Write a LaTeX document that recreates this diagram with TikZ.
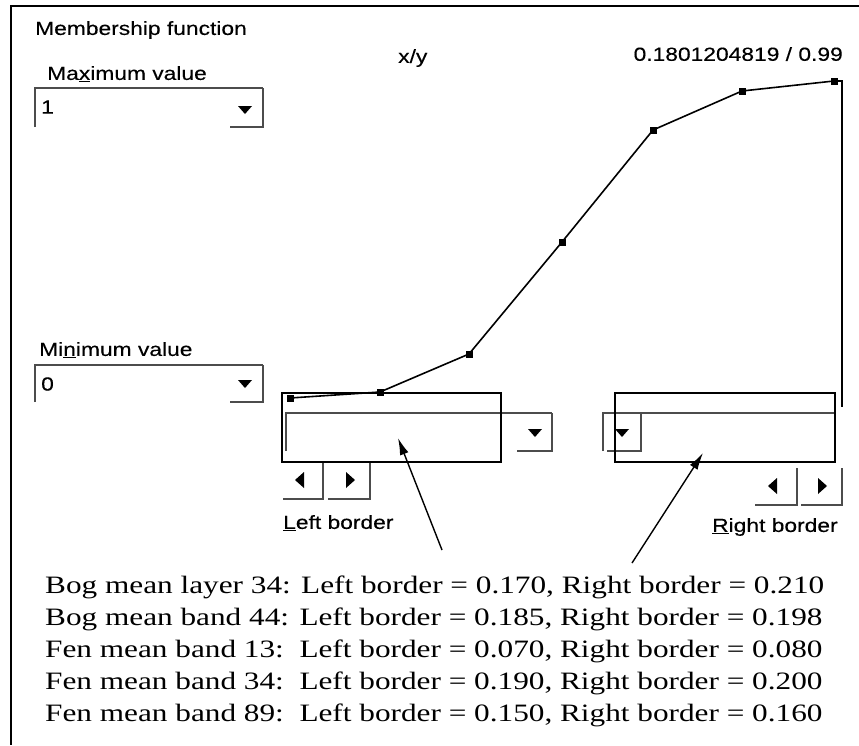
\documentclass[tikz,border=0pt]{standalone}
\usepackage{fontspec}
\newfontfamily\uifont[FakeStretch=1.2, FakeBold=0.3]{Liberation Sans}
\newfontfamily\notefont[FakeStretch=1.25]{Liberation Serif}
\usetikzlibrary{arrows.meta}

\tikzset{
    uilabel/.style={font=\uifont\fontsize{19}{22}\selectfont, inner sep=0pt, anchor=west},
    noteline/.style={font=\notefont\fontsize{25}{30}\selectfont, inner sep=0pt, anchor=west},
    sunken/.style={draw=black!70, line width=1.6pt},
    outline/.style={line width=1.4pt},
    marker/.style={fill=black, minimum size=7pt, inner sep=0pt},
    pointer/.style={line width=1.4pt, -{Latex[length=17pt,width=9pt]}},
}

\begin{document}
\begin{tikzpicture}[x=1pt, y=-1pt]
    \useasboundingbox (0,0) rectangle (859,745);

    % Draw the dialog frame
    \draw[line width=2pt] (10,6) -- (859,6);
    \draw[line width=2pt] (11,6) -- (11,745);

    % Label the left panel
    \node[uilabel] (title) at (35,30) {Membership function};
    \node[uilabel] (maxlabel) at (47,74) {Ma\underline{x}imum value};
    \node[uilabel] (maxval) at (41,107) {1};
    \node[uilabel] (minlabel) at (39,350) {Mi\underline{n}imum value};
    \node[uilabel] (minval) at (41,384) {0};

    % Draw the sunken combo boxes (top-left edge, then button shadow)
    \foreach \xa/\ya/\xb/\yb/\xc in {35/88/263/127/230, 35/365/263/402/230, 286/413/552/451/517} {
        \draw[sunken] (\xa,\yb) -- (\xa,\ya) -- (\xb,\ya);
        \draw[sunken] (\xc,\yb) -- (\xb,\yb) -- (\xb,\ya);
    }
    \draw[sunken] (603,451) -- (603,413) -- (835,413);
    \draw[sunken] (607,451) -- (641,451) -- (641,413);

    % Draw the drop-down arrows
    \foreach \x/\y in {245/110, 245/384, 535/433, 622/433} {
        \fill (\x-7,\y-4) -- (\x+7,\y-4) -- (\x,\y+4) -- cycle;
    }

    % Draw the border boxes
    \draw[outline] (282,393) rectangle (501,462);
    \draw[outline] (615,393) rectangle (835,462);

    % Draw the scroll buttons
    \foreach \xa/\xb/\ya/\yb in {283/323/463/499, 328/370/463/499, 755/797/468/505, 801/842/468/505} {
        \draw[sunken] (\xa,\yb) -- (\xb,\yb) -- (\xb,\ya);
    }
    \foreach \x/\y in {300/480, 773/486} {
        \fill (\x+4,\y-8) -- (\x+4,\y+8) -- (\x-5,\y) -- cycle;
    }
    \foreach \x/\y in {350/480, 822/486} {
        \fill (\x-4,\y-8) -- (\x-4,\y+8) -- (\x+5,\y) -- cycle;
    }
    \node[uilabel] (leftlabel) at (283,523) {\underline{L}eft border};
    \node[uilabel] (rightlabel) at (712,527) {\underline{R}ight border};

    % Draw the membership curve
    \node[uilabel] (xylabel) at (398,58) {x/y};
    \node[uilabel, anchor=east] (xyvalue) at (843,54) {0.1801204819 / 0.99};
    \foreach \n/\x/\y in {1/290/398, 2/380/392, 3/469/354, 4/562/242, 5/653/130, 6/742/91, 7/834/81} {
        \node[marker] (m\n) at (\x,\y) {};
    }
    \foreach \a/\b in {1/2, 2/3, 3/4, 4/5, 5/6, 6/7} {
        \draw[line width=1.6pt] (m\a.center) -- (m\b.center);
    }
    \coordinate (edgetop) at (842,81);
    \coordinate (edgebottom) at (842,407);
    \draw[line width=1.8pt] (m7.center) -- (edgetop) -- (edgebottom);

    % Draw the pointers to the borders
    \coordinate (tailL) at (442,550);
    \coordinate (tipL) at (398,438);
    \coordinate (tailR) at (632,563);
    \coordinate (tipR) at (703,453);
    \draw[pointer] (tailL) -- (tipL);
    \draw[pointer] (tailR) -- (tipR);

    % List the borders
    \node[noteline] (note1) at (45,587) {Bog mean layer 34: Left border = 0.170, Right border = 0.210};
    \node[noteline] (note2) at (45,619) {Bog mean band 44: Left border = 0.185, Right border = 0.198};
    \node[noteline] (note3) at (45,651) {Fen mean band 13:\ \ Left border = 0.070, Right border = 0.080};
    \node[noteline] (note4) at (45,683) {Fen mean band 34:\ \ Left border = 0.190, Right border = 0.200};
    \node[noteline] (note5) at (45,715) {Fen mean band 89:\ \ Left border = 0.150, Right border = 0.160};
\end{tikzpicture}
\end{document}
